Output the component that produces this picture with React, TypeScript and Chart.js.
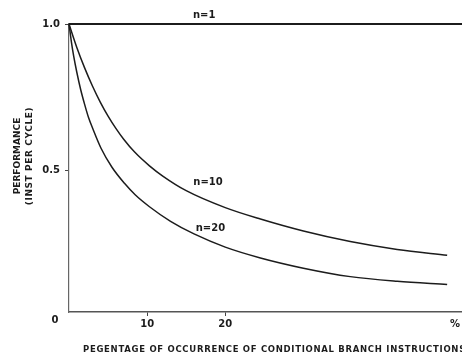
import React, { useEffect, useRef } from "react";
import { Chart, registerables } from "chart.js";

Chart.register(...registerables);

// Readings from the reference figure
const seriesNames = ["n=1", "n=10", "n=20"];
const xN1 = [0, 50.3];
const yN1 = [1.0, 1.0];
const xN10 = [0, 1, 2, 3, 4, 5, 6, 7, 8.4, 10.3, 12, 15, 20, 24.5, 30, 36, 42, 48.4];
const yN10 = [1.0, 0.92, 0.85, 0.788, 0.733, 0.685, 0.643, 0.606, 0.562, 0.515, 0.48, 0.43, 0.372, 0.333, 0.292, 0.256, 0.229, 0.209];
const xN20 = [0, 0.3, 0.6, 1, 1.5, 2, 2.5, 3, 4.1, 5.5, 7.1, 8.5, 10.3, 13, 16, 20, 24.5, 30, 36, 42, 48.4];
const yN20 = [1.0, 0.94, 0.89, 0.835, 0.775, 0.725, 0.68, 0.645, 0.575, 0.51, 0.455, 0.415, 0.375, 0.325, 0.282, 0.237, 0.2, 0.165, 0.136, 0.12, 0.109];

const xTicks = [10, 20, 49.4];
const xTickLabels = ["10", "20", "%"];
const yTicks = [0.5, 1.0];
const yTickLabels = ["0.5", "1.0"];

const xTitle = "PEGENTAGE OF OCCURRENCE OF CONDITIONAL BRANCH INSTRUCTIONS";
const yTitleLines = ["PERFORMANCE", "(INST PER CYCLE)"];

// where series names sit, in data coordinates
const labelX = [17.3, 17.8, 18.1];
const labelY = [1.03, 0.458, 0.301];

const INK = "#1c1c1c";
const FONT = "DejaVu Sans";

function toPoints(xs: number[], ys: number[]) {
  return xs.map((x, i) => ({ x, y: ys[i] }));
}

const textPlugin = {
  id: "textPlugin",
  afterDraw(chart: any) {
    const { ctx } = chart;
    const xs = chart.scales.x;
    const ys = chart.scales.y;
    ctx.save();
    ctx.fillStyle = INK;
    ctx.font = `bold 10px ${FONT}`;
    ctx.textAlign = "center";
    ctx.textBaseline = "middle";
    seriesNames.forEach((name, i) => {
      ctx.fillText(name, xs.getPixelForValue(labelX[i]), ys.getPixelForValue(labelY[i]));
    });
    ctx.fillText("0", xs.left - 14, ys.bottom + 8);
    ctx.font = `bold 8.5px ${FONT}`;
    ctx.textAlign = "left";
    (ctx as any).letterSpacing = "0.7px";
    ctx.fillText(xTitle, 83, 350);
    (ctx as any).letterSpacing = "0px";
    ctx.font = `bold 9px ${FONT}`;
    ctx.textAlign = "center";
    ctx.translate(0, 156);
    ctx.rotate(-Math.PI / 2);
    ctx.fillText(yTitleLines[0], 0, 18);
    (ctx as any).letterSpacing = "0.6px";
    ctx.fillText(yTitleLines[1], 0, 30);
    ctx.restore();
  },
};

export default function App() {
  const ref = useRef<HTMLCanvasElement | null>(null);
  useEffect(() => {
    document.body.style.margin = "0";
    const canvas = ref.current;
    if (!canvas) return;
    const line = (label: string, xs: number[], ys: number[], w: number) => ({
      label,
      data: toPoints(xs, ys),
      borderColor: INK,
      borderWidth: w,
      pointRadius: 0,
      fill: false,
      cubicInterpolationMode: "monotone" as const,
      clip: false as any,
    });
    const chart = new Chart(canvas, {
      type: "line",
      data: {
        datasets: [
          line(seriesNames[0], xN1, yN1, 2.2),
          line(seriesNames[1], xN10, yN10, 1.5),
          line(seriesNames[2], xN20, yN20, 1.5),
        ],
      },
      options: {
        animation: false,
        responsive: false,
        devicePixelRatio: 1,
        layout: { padding: { top: 24, left: 0, right: 0, bottom: 0 } },
        plugins: { legend: { display: false }, tooltip: { enabled: false } },
        scales: {
          x: {
            type: "linear",
            min: 0,
            max: 50.3,
            afterBuildTicks: (s: any) => {
              s.ticks = xTicks.map((v) => ({ value: v }));
            },
            afterFit: (s: any) => {
              s.height = 45;
            },
            ticks: {
              autoSkip: false,
              maxRotation: 0,
              padding: 2,
              color: INK,
              font: { family: FONT, size: 10, weight: "bold" },
              callback: (_v: any, i: number) => xTickLabels[i],
            },
            grid: {
              drawOnChartArea: false,
              drawTicks: true,
              tickLength: 4,
              tickColor: (c: any) => (c.tick && c.tick.value > 40 ? "rgba(0,0,0,0)" : "#444"),
            },
            border: { color: "#555", width: 1.4 },
          },
          y: {
            type: "linear",
            min: 0.015,
            max: 1.0,
            afterBuildTicks: (s: any) => {
              s.ticks = yTicks.map((v) => ({ value: v }));
            },
            afterFit: (s: any) => {
              s.width = 69;
            },
            ticks: {
              padding: 5,
              color: INK,
              font: { family: FONT, size: 10, weight: "bold" },
              callback: (_v: any, i: number) => yTickLabels[i],
            },
            grid: {
              drawOnChartArea: false,
              drawTicks: true,
              tickLength: 4,
              tickColor: "#444",
            },
            border: { color: "#666", width: 1.2 },
          },
        },
      } as any,
      plugins: [textPlugin],
    });
    return () => chart.destroy();
  }, []);
  return (
    <div style={{ position: "absolute", left: 0, top: 0, width: 462, height: 357, background: "#fff" }}>
      <canvas ref={ref} width={462} height={357} style={{ display: "block" }} />
    </div>
  );
}
